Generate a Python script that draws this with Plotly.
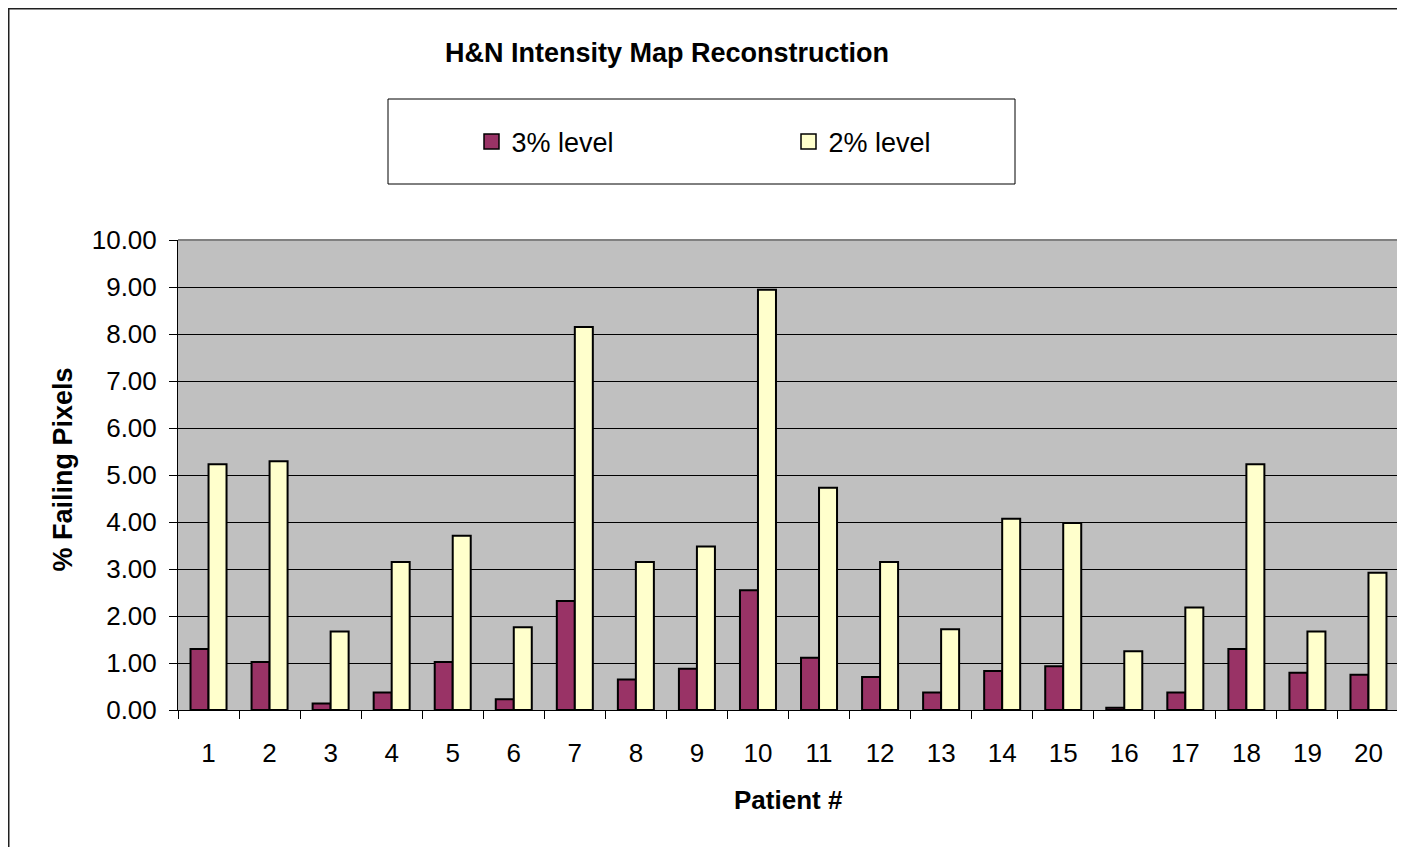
import plotly.graph_objects as go

patients = [str(i) for i in range(1, 21)]
level3 = [1.30, 1.02, 0.14, 0.37, 1.02, 0.23, 2.32, 0.65, 0.88, 2.55,
          1.11, 0.70, 0.37, 0.83, 0.93, 0.05, 0.37, 1.30, 0.79, 0.75]
level2 = [5.23, 5.29, 1.67, 3.15, 3.71, 1.76, 8.15, 3.15, 3.48, 8.94,
          4.73, 3.15, 1.72, 4.07, 3.98, 1.25, 2.18, 5.23, 1.67, 2.92]
series_names = ["3% level", "2% level"]
series_colors = ["#993366", "#FFFFCC"]
ytick_vals = [i for i in range(0, 11)]
ytick_text = [f"{v:.2f}" for v in ytick_vals]

FONT = "Liberation Sans, Arial, sans-serif"

# figure-pixel geometry (page is offset by 8px body margin)
L, T = 170, 232
PW, PH = 1221, 470
W, H = 1405, 847
BOT = T + PH  # 702


def px(xf):
    return (xf - L) / PW


def py(yf):
    return (BOT - yf) / PH


fig = go.Figure()
for name, vals, col in zip(series_names, [level3, level2], series_colors):
    fig.add_trace(go.Bar(x=patients, y=vals, name=name, showlegend=False,
                         marker=dict(color=col, line=dict(color="black", width=2))))
for name, col in zip(series_names, series_colors):
    fig.add_trace(go.Scatter(x=[None], y=[None], mode="markers", name=name,
                             marker=dict(symbol="square", size=15, color=col,
                                         line=dict(color="black", width=1.5))))

fig.update_layout(
    width=W, height=H,
    margin=dict(l=L, r=W - L - PW, t=T, b=H - BOT),
    paper_bgcolor="white", plot_bgcolor="#C0C0C0",
    font=dict(family=FONT, size=26, color="black"),
    barmode="group", bargap=0.41, bargroupgap=0,
    title=dict(text="<b>H&N Intensity Map Reconstruction</b>", x=(667 - 8) / W, xref="container",
               y=1 - (53 - 8) / H, yref="container", xanchor="center", yanchor="middle",
               font=dict(size=27, family=FONT)),
    showlegend=True,
    legend=dict(orientation="h", x=px(463.5), y=py(134), xanchor="left", yanchor="middle",
                bgcolor="rgba(0,0,0,0)", borderwidth=0,
                entrywidth=272, entrywidthmode="pixels",
                font=dict(size=27, family=FONT), traceorder="normal"),
    xaxis=dict(type="category", showgrid=False, showline=True, linecolor="black", linewidth=1,
               ticks="outside", tickson="boundaries", ticklen=8, tickcolor="black",
               ticklabelstandoff=20, mirror=False, tickfont=dict(size=26)),
    yaxis=dict(range=[0, 10], tickvals=ytick_vals, ticktext=ytick_text,
               showgrid=True, gridcolor="black", gridwidth=1,
               showline=True, linecolor="black", linewidth=1,
               ticks="outside", ticklen=8, tickcolor="black", ticklabelstandoff=7,
               zeroline=False, tickfont=dict(size=26)),
    annotations=[
        dict(text="<b>% Failing Pixels</b>", xref="paper", yref="paper",
             x=px(62 - 8), y=py(469.5 - 8), textangle=-90, showarrow=False,
             xanchor="center", yanchor="middle", font=dict(size=27, family=FONT)),
        dict(text="<b>Patient #</b>", xref="paper", yref="paper",
             x=px(788 - 8), y=py(800 - 8), showarrow=False,
             xanchor="center", yanchor="middle", font=dict(size=26, family=FONT)),
    ],
    shapes=[
        dict(type="rect", xref="paper", yref="paper",
             x0=px(0.5), x1=px(1420), y0=py(870), y1=py(0.5),
             line=dict(color="#202020", width=2), fillcolor="rgba(0,0,0,0)", layer="below"),
        dict(type="rect", xref="paper", yref="paper",
             x0=px(388 - 8), x1=px(1015 - 8), y0=py(184 - 8), y1=py(99 - 8),
             line=dict(color="black", width=1), fillcolor="white", layer="below"),
        dict(type="line", xref="paper", yref="paper", x0=0, x1=1, y0=1, y1=1,
             line=dict(color="#808080", width=2)),
        dict(type="line", xref="paper", yref="paper", x0=1, x1=1, y0=0, y1=1,
             line=dict(color="#808080", width=2)),
    ],
)

fig.write_html("out.html")
